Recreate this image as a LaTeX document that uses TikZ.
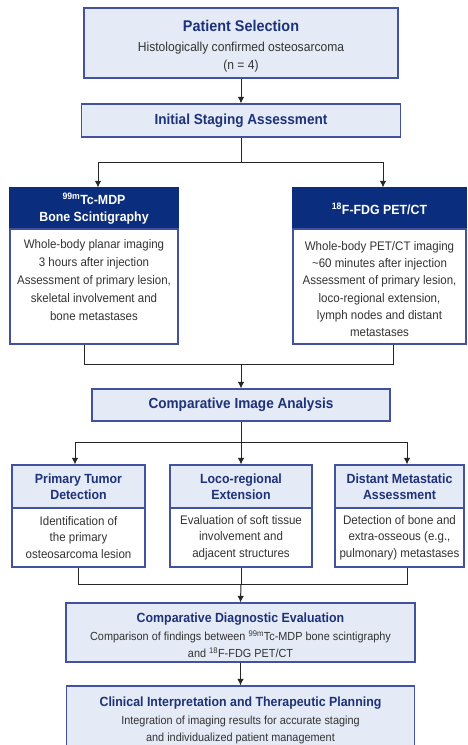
\documentclass[tikz,border=0pt]{standalone}
\usepackage{fontspec}
\setmainfont{Liberation Sans}[FakeStretch=0.93]
\usetikzlibrary{arrows.meta}
\definecolor{boxfill}{HTML}{E4EAF6}
\definecolor{boxedge}{HTML}{4352A0}
\definecolor{navy}{HTML}{0B2D7E}
\definecolor{ttlblue}{HTML}{1E3279}
\definecolor{txtgray}{HTML}{333333}
\newcommand{\ttlA}{\fontsize{15.5}{17}\selectfont\bfseries}
\newcommand{\ttlB}{\fontsize{14.6}{17}\selectfont\bfseries}
\newcommand{\ttlC}{\fontsize{13.3}{16.5}\selectfont\bfseries}
\newcommand{\bdyA}{\fontsize{13}{18}\selectfont}
\newcommand{\bdyB}{\fontsize{12.4}{18}\selectfont}
\newcommand{\bdyC}{\fontsize{11.7}{16.5}\selectfont}
\tikzstyle{line} = [draw, -{Latex[length=6.5pt,width=6.5pt]}, line width=1pt, black!85]
\tikzstyle{conn} = [draw, line width=1pt, black!85]
\tikzstyle{stage} = [rectangle, draw=boxedge, line width=1.2pt, fill=boxfill, align=center, text=txtgray, inner sep=0pt, font=\bdyC]
\tikzstyle{headdark} = [rectangle, draw=navy, line width=1.2pt, fill=navy, align=center, text=white, inner sep=0pt, font=\ttlC]
\tikzstyle{headlight} = [rectangle, draw=boxedge, line width=1.2pt, fill=boxfill, align=center, text=ttlblue, inner sep=0pt, font=\ttlC]
\tikzstyle{bodywhite} = [rectangle, draw=boxedge, line width=1.2pt, fill=white, align=center, text=txtgray, inner sep=0pt, font=\bdyB]

\begin{document}
\begin{tikzpicture}[x=1pt, y=-1pt]
\useasboundingbox (0,0) rectangle (468,745);
\fill [white] (0,0) rectangle (468,745);

\node [stage, minimum width=314pt, minimum height=70pt, font=\bdyA] (sel) at (241,43) {\rule{0pt}{18pt}{\ttlA\color{ttlblue}Patient Selection}\\[2pt] Histologically confirmed osteosarcoma\\ (n = 4)};
\node [stage, below of=sel, node distance=77.5pt, minimum width=319pt, minimum height=33pt, font=\ttlB, text=ttlblue] (stage1) {Initial Staging Assessment};
\path [line] (sel) -- (stage1);

\node [headdark, minimum width=168pt, minimum height=41pt] (bsHead) at (94,208.5) {\textsuperscript{99m}Tc-MDP\\ Bone Scintigraphy};
\node [bodywhite, below of=bsHead, node distance=78pt, minimum width=168pt, minimum height=115pt] (bsBody) {Whole-body planar imaging\\ 3 hours after injection\\ Assessment of primary lesion,\\ skeletal involvement and\\ bone metastases\\[-5pt] ~};
\node [headdark, right of=bsHead, node distance=285.5pt, minimum width=173pt, minimum height=41pt] (petHead) {\textsuperscript{18}F-FDG PET/CT};
\node [bodywhite, below of=petHead, node distance=78pt, minimum width=173pt, minimum height=115pt, font=\fontsize{12.4}{17.3}\selectfont] (petBody) {\rule{0pt}{14pt}Whole-body PET/CT imaging\\ \textasciitilde60 minutes after injection\\ Assessment of primary lesion,\\ loco-regional extension,\\ lymph nodes and distant\\ metastases};

\coordinate (split1) at (241,162);
\path [conn] (stage1.south) -- (split1);
\path [line] (split1) -| ([xshift=4pt]bsHead.north);
\path [line] (split1) -| ([xshift=3.5pt]petHead.north);

\node [stage, minimum width=298pt, minimum height=32pt, font=\ttlB, text=ttlblue] (cia) at (241,405) {Comparative Image Analysis};
\coordinate (join1) at (241,364);
\path [conn] ([xshift=-10pt]bsBody.south) |- (join1);
\path [conn] ([xshift=13.5pt]petBody.south) |- (join1);
\path [line] (join1) -- (cia.north);

\node [headlight, minimum width=133pt, minimum height=43pt] (ptHead) at (78.5,486.5) {Primary Tumor\\ Detection};
\node [bodywhite, below of=ptHead, node distance=51pt, minimum width=133pt, minimum height=59pt, font=\fontsize{12.4}{16.3}\selectfont] (ptBody) {Identification of\\ the primary\\ osteosarcoma lesion};
\node [headlight, right of=ptHead, node distance=162.5pt, minimum width=142pt, minimum height=43pt] (lrHead) {Loco-regional\\ Extension};
\node [bodywhite, below of=lrHead, node distance=51pt, minimum width=142pt, minimum height=59pt, font=\fontsize{12.4}{16.3}\selectfont] (lrBody) {Evaluation of soft tissue\\ involvement and\\ adjacent structures};
\node [headlight, right of=lrHead, node distance=158.5pt, minimum width=129pt, minimum height=43pt] (dmHead) {Distant Metastatic\\ Assessment};
\node [bodywhite, below of=dmHead, node distance=51pt, minimum width=129pt, minimum height=59pt, font=\fontsize{12.4}{16.3}\selectfont] (dmBody) {Detection of bone and\\ extra-osseous (e.g.,\\ pulmonary) metastases};

\coordinate (split2) at (241,442);
\path [conn] (cia.south) -- (split2);
\path [line] (split2) -| ([xshift=-3.5pt]ptHead.north);
\path [line] (split2) -- (lrHead.north);
\path [line] (split2) -| ([xshift=7.5pt]dmHead.north);

\node [stage, minimum width=349pt, minimum height=59pt] (cde) at (240.5,632.5) {\rule{0pt}{15.5pt}{\ttlC\color{ttlblue}Comparative Diagnostic Evaluation}\\[1.5pt] Comparison of findings between \textsuperscript{99m}Tc-MDP bone scintigraphy\\ and \textsuperscript{18}F-FDG PET/CT};
\coordinate (join2) at (241,584);
\path [conn] (ptBody.south) |- (join2);
\path [conn] (lrBody.south) -- (join2);
\path [conn] ([xshift=7.5pt]dmBody.south) |- (join2);
\path [line] (join2) -- (cde.north);

\node [stage, below of=cde, node distance=84.5pt, minimum width=348pt, minimum height=62pt] (cit) {\rule{0pt}{16pt}{\ttlC\color{ttlblue}Clinical Interpretation and Therapeutic Planning}\\[2pt] Integration of imaging results for accurate staging\\ and individualized patient management};
\path [line] (cde) -- (cit);

\end{tikzpicture}
\end{document}
